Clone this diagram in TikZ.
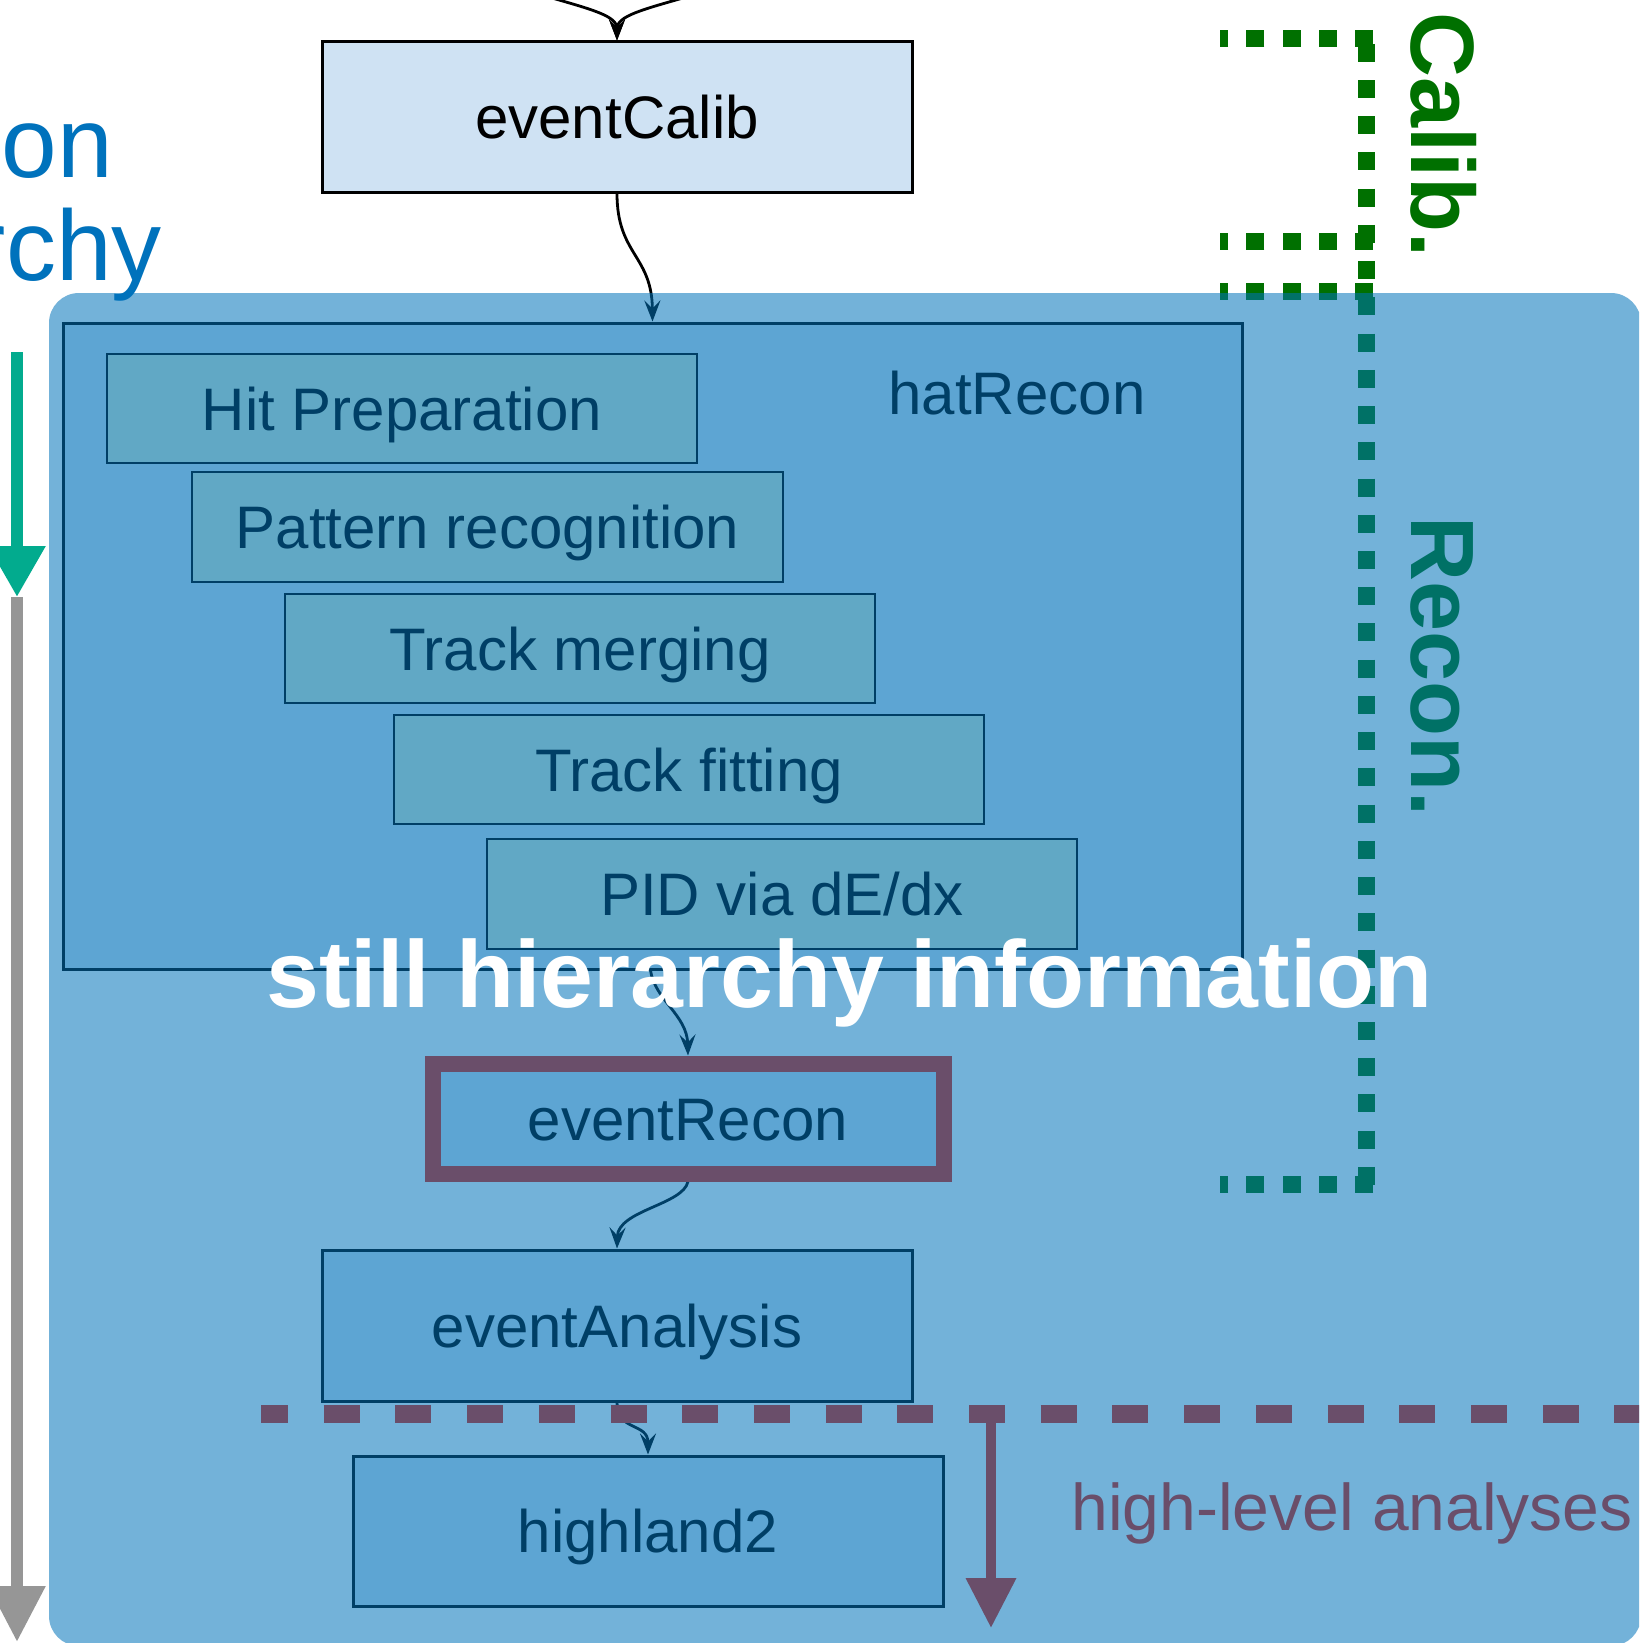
\documentclass[tikz,border=0pt]{standalone}
\usepackage{fontspec}
\setmainfont{Liberation Sans}
\usetikzlibrary{arrows.meta}
\definecolor{boxblue}{HTML}{CFE2F3}
\definecolor{stepgreen}{HTML}{D9EAD3}
\definecolor{overlayblue}{HTML}{0073BA}
\definecolor{calgreen}{HTML}{007000}
\definecolor{purp}{HTML}{6A4E6A}
\definecolor{hblue}{HTML}{0072BC}
\definecolor{tealg}{HTML}{02AB8E}
\definecolor{grayA}{HTML}{969696}
\begin{document}
\begin{tikzpicture}[x=1pt,y=-1pt,
  box/.style={draw=black, line width=3pt, fill=boxblue, inner sep=0pt,
    minimum width=590pt, text height=43pt, text depth=0pt,
    font=\fontsize{60}{72}\selectfont},
  stepbox/.style={box, fill=stepgreen, line width=2.8pt, minimum height=109pt},
  flow/.style={line width=2.8pt, -{Stealth[length=21pt,width=16pt,inset=8pt]}},
  gdot/.style={draw=calgreen, line width=17pt, dash pattern=on 18pt off 18.23pt},
  vlabel/.style={text=calgreen, font=\fontsize{90}{100}\selectfont\bfseries,
    rotate=-90, anchor=base west, inner sep=0pt}
]
\useasboundingbox (0,0) rectangle (1639,1643);
\clip (0,0) rectangle (1639,1643);
\fill[white] (0,0) rectangle (1639,1643);

% ---------- layer below the translucent overlay ----------
\node[box, minimum height=150pt] (calib) at (617,117) {eventCalib};
\coordinate (inL) at (545,-4);
\coordinate (inR) at (690,-4);
\draw[flow] (inL) .. controls (594,10) and (617,16) .. (calib.north);
\draw[flow] (inR) .. controls (641,10) and (617,16) .. (calib.north);

\node[box, minimum width=1179pt, minimum height=646pt] (hat) at (652.5,646) {};
\node[anchor=base, font=\fontsize{60}{72}\selectfont, inner sep=0pt] (hatlabel) at (1017,414) {hatRecon};

\node[stepbox] (hit) at (402,408.5) {Hit Preparation};
\node[stepbox, minimum width=591pt, minimum height=110pt] (pat) at (487.5,527) {Pattern recognition};
\node[stepbox] (merge) at (580,648.5) {Track merging};
\node[stepbox] (fit) at (689,769.5) {Track fitting};
\node[stepbox, minimum height=110pt] (pid) at (782,894) {PID via dE/dx};

\node[box, draw=none, minimum width=508pt, minimum height=107pt] (recon) at (688,1118.5) {eventRecon};
\node[box, minimum height=151pt] (ana) at (617,1325.5) {eventAnalysis};
\node[box, minimum height=150pt] (hl) at (648,1531) {highland2};

\draw[flow] (calib.south) .. controls (617,255) and (652,255) .. (hat.north);
\draw[flow] ([xshift=-2pt]hat.south) .. controls (655,1000) and (687,1015) .. ([yshift=8pt]recon.north);
\draw[flow] ([yshift=-8pt]recon.south) .. controls (683,1205) and (618,1210) .. (ana.north);
\draw[flow] (ana.south) .. controls (617,1432) and (648,1422) .. (hl.north);

% green dotted bracket
\draw[gdot] (1366,43.8) -- (1366,1186);
\draw[gdot] (1373,38.5) -- (1220,38.5);
\draw[gdot] (1373,241) -- (1220,241);
\draw[gdot] (1373,291.5) -- (1220,291.5);
\draw[gdot] (1373,1184.5) -- (1220,1184.5);
\node[vlabel] (calibl) at (1411,12) {Calib.};
\node[vlabel] (reconl) at (1411,516) {Recon.};

% ---------- translucent overlay ----------
\fill[overlayblue, fill opacity=0.55, rounded corners=30pt] (49,293) rectangle (1641,1646);

% ---------- layer above the overlay ----------
\draw[purp, line width=16pt] (recon.north west) rectangle (recon.south east);
\coordinate (dashL) at (261,1414);
\coordinate (dashR) at (1660,1414);
\draw[purp, line width=18pt, dash pattern=on 36pt off 35.7pt, dash phase=9pt] (dashL) -- (dashR);
\coordinate (pA) at (991,1406);
\coordinate (pB) at (991,1628);
\draw[purp, line width=10pt, -{Triangle[length=50pt,width=48pt]}] (pA) -- (pB);
\node[text=purp, font=\fontsize{66}{80}\selectfont, anchor=base, inner sep=0pt] (hla) at (1352,1530) {high-level analyses};
\node[text=white, font=\fontsize{95}{110}\selectfont\bfseries, anchor=base, inner sep=0pt] (still) at (849.5,1007) {still hierarchy information};

% ---------- left margin ----------
\node[text=hblue, font=\fontsize{100}{120}\selectfont, anchor=base east, inner sep=0pt] (t1) at (113,177) {on};
\node[text=hblue, font=\fontsize{100}{120}\selectfont, anchor=base east, inner sep=0pt] (t2) at (162,280) {rchy};
\coordinate (g1) at (17,352);
\coordinate (g2) at (17,597);
\coordinate (g3) at (17,1642);
\draw[tealg, line width=12pt, -{Triangle[length=51pt,width=54pt]}] (g1) -- (g2);
\draw[grayA, line width=12pt, -{Triangle[length=56pt,width=54pt]}] (g2) -- (g3);
\end{tikzpicture}
\end{document}
